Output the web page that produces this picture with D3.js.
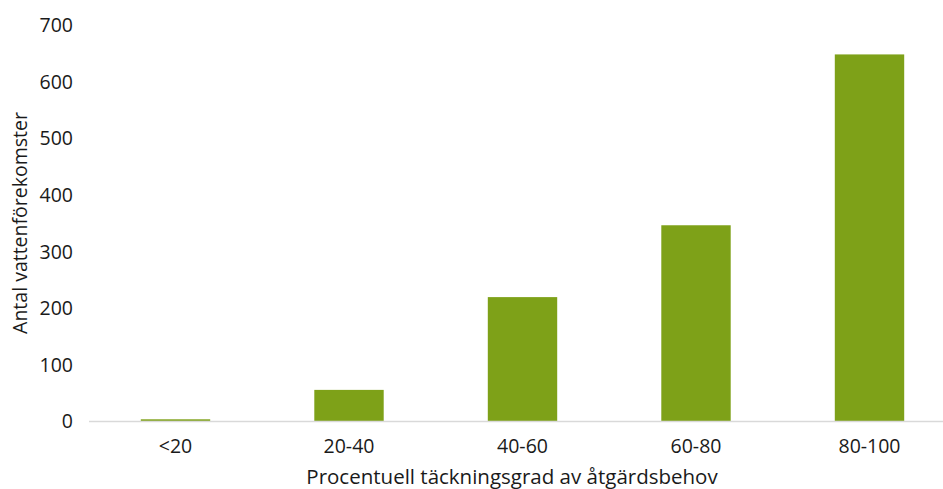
<!DOCTYPE html>
<html><head><meta charset="utf-8">
<script src="https://cdn.jsdelivr.net/npm/d3@7"></script>
<style>body{margin:0;background:#fff}svg{display:block}text{font-family:"Open Sans",sans-serif;fill:#1a1a1a}</style>
</head><body>
<svg id="c" width="943" height="489"></svg>
<script>
const categories = ["<20","20-40","40-60","60-80","80-100"];
const values = [3, 55, 219, 346, 648];
const yTicks = [0,100,200,300,400,500,600,700];
const xTitle = "Procentuell täckningsgrad av åtgärdsbehov";
const yTitle = "Antal vattenförekomster";

const svg = d3.select("#c");
const fs = 19.5;
const x = d3.scaleBand().domain(categories).range([88.75, 956.25]).paddingInner(0.6).paddingOuter(0.3);
const y = d3.scaleLinear().domain([0,700]).range([421, 25]);

// y tick labels
const ya = svg.append("g").attr("transform","translate(73,0)")
  .call(d3.axisLeft(y).tickValues(yTicks).tickSize(0).tickPadding(0));
ya.select(".domain").remove();
ya.selectAll("text").attr("font-size",fs).attr("font-family",null).attr("fill","#1a1a1a").attr("dy","0.35em");

// bars
svg.append("g").selectAll("rect").data(values).join("rect")
  .attr("x",(d,i)=>x(categories[i]))
  .attr("width",x.bandwidth())
  .attr("y",d=>y(d))
  .attr("height",d=>y(0)-y(d))
  .attr("fill","#7ea118");

// baseline
svg.append("line").attr("x1",89).attr("x2",943).attr("y1",y(0)+0.5).attr("y2",y(0)+0.5)
  .attr("stroke","#d9d9d9").attr("stroke-width",1.5);

// x axis labels
const xa = svg.append("g").attr("transform",`translate(0,${y(0)})`)
  .call(d3.axisBottom(x).tickSize(0).tickPadding(0));
xa.select(".domain").remove();
xa.selectAll("text").attr("font-size",fs).attr("font-family",null).attr("fill","#1a1a1a").attr("dy",null).attr("y",32);

// titles
svg.append("text").attr("x",512).attr("y",484).attr("text-anchor","middle").attr("font-size",20.5).text(xTitle);
svg.append("text").attr("transform","translate(27,223) rotate(-90)").attr("text-anchor","middle").attr("font-size",19.5).text(yTitle);
</script>
</body></html>
